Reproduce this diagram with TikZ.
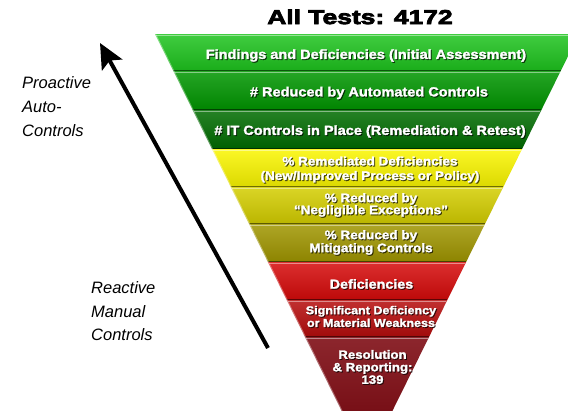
\documentclass[tikz,border=0pt]{standalone}
\usepackage{fontspec}
\setmainfont{Liberation Sans}
\newfontfamily\titlefont{Liberation Sans}[BoldFeatures={FakeBold=4,FakeStretch=1.32}]
\newfontfamily\bandfont{Liberation Sans}[BoldFeatures={FakeBold=2,FakeStretch=1.1}]
\usetikzlibrary{arrows.meta}

\definecolor{greenA}{RGB}{30,196,30}
\definecolor{greenB}{RGB}{0,150,0}
\definecolor{greenC}{RGB}{0,108,0}
\definecolor{yellowA}{RGB}{250,246,0}
\definecolor{yellowB}{RGB}{212,206,0}
\definecolor{oliveC}{RGB}{160,150,0}
\definecolor{redA}{RGB}{214,10,10}
\definecolor{redB}{RGB}{182,12,12}
\definecolor{maroonC}{RGB}{120,0,8}

\tikzset{
  labeltext/.style={text=white, align=center, inner sep=0pt},
  labelshadow/.style={text=black, text opacity=0.65, align=center, inner sep=0pt},
  sidetext/.style={anchor=base west, inner sep=0pt, font=\itshape\fontsize{16.5}{20}\selectfont},
  titletext/.style={anchor=base, inner sep=0pt, font=\titlefont\bfseries\fontsize{20}{24}\selectfont},
  topline/.style={white, opacity=0.45, line width=1.2pt},
  bottomline/.style={black, opacity=0.5, line width=1.2pt},
  edgeglow/.style={white, opacity=0.35, line width=2pt},
  bigarrow/.style={line width=4pt, -{Stealth[length=25pt, width=23pt, inset=5pt]}},
}

% one slice of the funnel: name, top y, bottom y, colour
\newcommand\funnelband[4]{%
  \pgfmathsetmacro\hwtop{212-0.495*(#2-34)}%
  \pgfmathsetmacro\hwbot{212-0.495*(#3-34)}%
  \shade[top color=#4!85!white, bottom color=#4!88!black]
    (367-\hwtop,#2) coordinate (#1-nw) -- (367+\hwtop,#2) coordinate (#1-ne)
    -- (367+\hwbot,#3) coordinate (#1-se) -- (367-\hwbot,#3) coordinate (#1-sw) -- cycle;
  \draw[topline] (367-\hwtop+1,#2+1.3) -- (367+\hwtop-1,#2+1.3);
  \draw[bottomline] (367-\hwbot,#3-0.6) -- (367+\hwbot,#3-0.6);
  \draw[edgeglow] (#1-nw) -- (#1-sw);
}

% white label with a dark drop shadow: name, x, y, size, line skip, text
\newcommand\bandlabel[6]{%
  \node[labelshadow, font=\bandfont\bfseries\fontsize{#4}{#5}\selectfont] (#1-shadow) at (#2+1,#3+1) {#6};
  \node[labeltext, font=\bandfont\bfseries\fontsize{#4}{#5}\selectfont] (#1) at (#2,#3) {#6};
}

\begin{document}
\begin{tikzpicture}[x=1pt,y=-1pt]
  \useasboundingbox (0,0) rectangle (568,410);
  \clip (0,0) rectangle (568,410);
  \fill[white] (0,0) rectangle (568,410);

  % funnel slices, top to bottom
  \funnelband{findings}{34}{71}{greenA}
  \funnelband{automated}{71}{110}{greenB}
  \funnelband{itcontrols}{110}{149}{greenC}
  \funnelband{remediated}{149}{187}{yellowA}
  \funnelband{negligible}{187}{224}{yellowB}
  \funnelband{mitigating}{224}{262}{oliveC}
  \funnelband{deficiencies}{262}{300}{redA}
  \funnelband{significant}{300}{337}{redB}
  \funnelband{resolution}{337}{462.3}{maroonC}

  % slice labels
  \bandlabel{l-findings}{366}{55.5}{13.2}{15}{Findings and Deficiencies (Initial Assessment)}
  \bandlabel{l-automated}{369}{93}{13.2}{15}{\# Reduced by Automated Controls}
  \bandlabel{l-itcontrols}{370}{131.5}{13.2}{15}{\# IT Controls in Place (Remediation \& Retest)}
  \bandlabel{l-remediated}{370}{169.5}{12.3}{14.5}{\% Remediated Deficiencies\\(New/Improved Process or Policy)}
  \bandlabel{l-negligible}{371}{205}{12.3}{12}{\% Reduced by\\“Negligible Exceptions”}
  \bandlabel{l-mitigating}{371}{242.5}{12.3}{13}{\% Reduced by\\Mitigating Controls}
  \bandlabel{l-deficiencies}{371.5}{284}{13}{15}{Deficiencies}
  \bandlabel{l-significant}{371}{316.5}{11.4}{12.7}{Significant Deficiency\\or Material Weakness}
  \bandlabel{l-resolution}{372.5}{367}{12}{12.5}{Resolution\\\& Reporting:\\139}

  % heading
  \node[titletext] (title) at (360,24) {All Tests: 4172};

  % side captions
  \node[sidetext] (pro1) at (22,88) {Proactive};
  \node[sidetext] (pro2) at (22,112) {Auto-};
  \node[sidetext] (pro3) at (22,136) {Controls};
  \node[sidetext] (re1) at (91,293) {Reactive};
  \node[sidetext] (re2) at (91,317) {Manual};
  \node[sidetext] (re3) at (91,340) {Controls};

  % direction arrow
  \coordinate (tail) at (268,348);
  \coordinate (head) at (100,43);
  \draw[bigarrow] (tail) -- (head);
\end{tikzpicture}
\end{document}
